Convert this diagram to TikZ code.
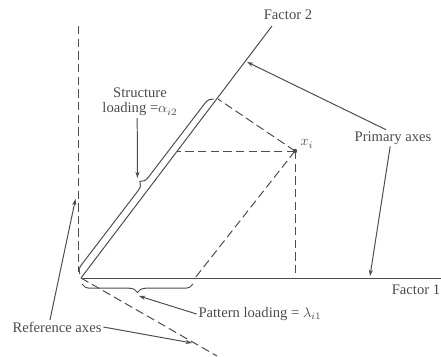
\documentclass[tikz,border=0pt]{standalone}
\usepackage{fontspec}
\setmainfont{Liberation Serif}
\usepackage{amsmath}
\usetikzlibrary{positioning, arrows.meta, calc, decorations.pathreplacing}

\begin{document}
\begin{tikzpicture}[x=0.025cm, y=-0.025cm, color=black!70, line width=0.7pt,
    >={Stealth[length=4.5pt, width=3pt]},
    dashline/.style={dash pattern=on 6pt off 3pt},
    loading/.style={decorate, decoration={brace, amplitude=6pt}},
    lbl/.style={font=\fontsize{10.4}{11}\selectfont, inner sep=1pt, align=center}]
    \useasboundingbox (0,0) rectangle (441,356);
    % Primary axes
    \coordinate (O) at (81,278);
    \coordinate (F1) at (441,278);
    \coordinate (F2) at (272,26);
    \draw (O) -- (F1);
    \draw (O) -- (F2);
    \node[lbl] (f1lbl) at (416,290) {Factor 1};
    \node[lbl] (f2lbl) at (288,15) {Factor 2};
    % Reference axes (dashed)
    \coordinate (R1) at (78.5,26);
    \coordinate (R1b) at (78.5,272);
    \coordinate (R2) at (217,356);
    \draw[dashline] (R1) -- (R1b);
    \draw[dashline] (O) -- (R2);
    % Object x_i and its projections
    \coordinate (xi) at (295,151);
    \coordinate (P1) at (195,278);
    \coordinate (P2) at (218,99);
    \coordinate (H2) at (177,151);
    \coordinate (V1) at (295,278);
    \draw[dashline] (xi) -- (H2);
    \draw[dashline] (xi) -- (V1);
    \draw[dashline] (xi) -- (P2);
    \draw[dashline] (xi) -- (P1);
    \fill (xi) circle (2.2);
    \node[lbl] (xilbl) at (307,144) {$x_i$};
    % Loadings
    \coordinate (s1) at (79.7,274);
    \coordinate (s2) at (213.5,99);
    \coordinate (p1) at (193,284);
    \coordinate (p2) at (82,284);
    \draw[loading] (s1) -- (s2);
    \draw[loading] (p1) -- (p2);
    \coordinate (stip) at (137.5,178);
    \coordinate (ptip) at (139,296);
    \node[lbl] (strlbl) at (140,102) {Structure\\loading =$\alpha_{i2}$};
    \node[lbl] (patlbl) at (260,314) {Pattern loading = $\lambda_{i1}$};
    \draw[->] ([xshift=-2pt]strlbl.south) -- (stip);
    \draw[->] (patlbl.west) -- (ptip);
    % Labels of the axes
    \coordinate (a1) at (247,62);
    \coordinate (a2) at (370,276);
    \coordinate (r1) at (75.5,199);
    \coordinate (r2) at (192,343);
    \node[lbl] (primlbl) at (393,138) {Primary axes};
    \node[lbl] (reflbl) at (57,327) {Reference axes};
    \draw[->] ([xshift=-5pt]primlbl.north) -- (a1);
    \draw[->] ([xshift=-2pt]primlbl.south) -- (a2);
    \draw[->] ([xshift=-5pt]reflbl.north) -- (r1);
    \draw[->] (reflbl.east) -- (r2);
\end{tikzpicture}
\end{document}
